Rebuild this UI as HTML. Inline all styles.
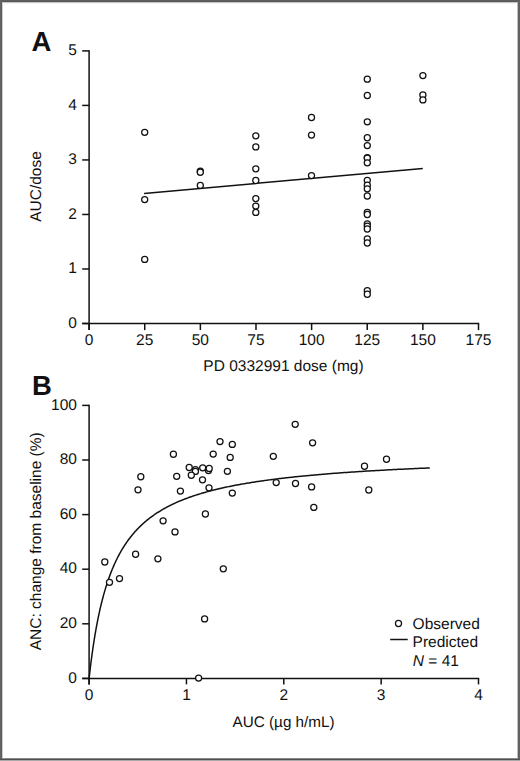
<!DOCTYPE html>
<html><head><meta charset="utf-8"><style>
html,body{margin:0;padding:0;background:#fff;}
body{width:520px;height:761px;overflow:hidden;position:relative;}
.frame{position:absolute;left:0;top:0;width:520px;height:761px;}
svg{position:absolute;left:0;top:0;}
text{text-rendering:geometricPrecision;font-family:"Liberation Sans",sans-serif;font-size:15.5px;fill:#111;}
</style></head><body>
<svg width="520" height="761" viewBox="0 0 520 761">
<rect x="0" y="0" width="520" height="761" fill="#fff"/>
<g shape-rendering="crispEdges">
<rect x="0" y="3" width="520" height="1" fill="#f4f4f4"/>
<rect x="0" y="2" width="520" height="1" fill="#c8c8c8"/>
<rect x="2" y="0" width="1" height="761" fill="#d0d0d0"/>
<rect x="517" y="0" width="1" height="761" fill="#c0c0c0"/>
<rect x="0" y="758" width="520" height="1" fill="#8a8a8a"/>
<rect x="0" y="0" width="520" height="1" fill="#606060"/>
<rect x="0" y="1" width="520" height="1" fill="#565656"/>
<rect x="0" y="0" width="1" height="761" fill="#646464"/>
<rect x="1" y="0" width="1" height="761" fill="#5c5c5c"/>
<rect x="518" y="0" width="1" height="761" fill="#606060"/>
<rect x="519" y="0" width="1" height="761" fill="#626262"/>
<rect x="0" y="759" width="520" height="1" fill="#4f4f4f"/>
<rect x="0" y="760" width="520" height="1" fill="#a9a9a9"/>
</g>
<line x1="89.10" y1="50.30" x2="89.10" y2="330.10" stroke="#111" stroke-width="1.5"/>
<line x1="82.20" y1="323.50" x2="479.20" y2="323.50" stroke="#111" stroke-width="1.5"/>
<line x1="82.20" y1="323.50" x2="89.10" y2="323.50" stroke="#111" stroke-width="1.5"/>
<text x="76.90" y="327.60" text-anchor="end" >0</text>
<line x1="82.20" y1="268.98" x2="89.10" y2="268.98" stroke="#111" stroke-width="1.5"/>
<text x="76.90" y="273.08" text-anchor="end" >1</text>
<line x1="82.20" y1="214.46" x2="89.10" y2="214.46" stroke="#111" stroke-width="1.5"/>
<text x="76.90" y="218.56" text-anchor="end" >2</text>
<line x1="82.20" y1="159.94" x2="89.10" y2="159.94" stroke="#111" stroke-width="1.5"/>
<text x="76.90" y="164.04" text-anchor="end" >3</text>
<line x1="82.20" y1="105.42" x2="89.10" y2="105.42" stroke="#111" stroke-width="1.5"/>
<text x="76.90" y="109.52" text-anchor="end" >4</text>
<line x1="82.20" y1="50.90" x2="89.10" y2="50.90" stroke="#111" stroke-width="1.5"/>
<text x="76.90" y="55.00" text-anchor="end" >5</text>
<line x1="89.10" y1="323.50" x2="89.10" y2="330.10" stroke="#111" stroke-width="1.5"/>
<text x="89.10" y="345.10" text-anchor="middle" >0</text>
<line x1="144.73" y1="323.50" x2="144.73" y2="330.10" stroke="#111" stroke-width="1.5"/>
<text x="144.73" y="345.10" text-anchor="middle" >25</text>
<line x1="200.36" y1="323.50" x2="200.36" y2="330.10" stroke="#111" stroke-width="1.5"/>
<text x="200.36" y="345.10" text-anchor="middle" >50</text>
<line x1="255.99" y1="323.50" x2="255.99" y2="330.10" stroke="#111" stroke-width="1.5"/>
<text x="255.99" y="345.10" text-anchor="middle" >75</text>
<line x1="311.61" y1="323.50" x2="311.61" y2="330.10" stroke="#111" stroke-width="1.5"/>
<text x="311.61" y="345.10" text-anchor="middle" >100</text>
<line x1="367.24" y1="323.50" x2="367.24" y2="330.10" stroke="#111" stroke-width="1.5"/>
<text x="367.24" y="345.10" text-anchor="middle" >125</text>
<line x1="422.87" y1="323.50" x2="422.87" y2="330.10" stroke="#111" stroke-width="1.5"/>
<text x="422.87" y="345.10" text-anchor="middle" >150</text>
<line x1="478.50" y1="323.50" x2="478.50" y2="330.10" stroke="#111" stroke-width="1.5"/>
<text x="478.50" y="345.10" text-anchor="middle" >175</text>
<text x="283.50" y="371.20" text-anchor="middle" >PD 0332991 dose (mg)</text>
<text x="0.00" y="0.00" text-anchor="middle" transform="translate(41.3,186.5) rotate(-90)">AUC/dose</text>
<text x="31.5" y="51.2" style="font-weight:bold;font-size:27.5px">A</text>
<line x1="144.10" y1="193.40" x2="422.80" y2="168.60" stroke="#111" stroke-width="1.5"/>
<circle cx="144.70" cy="132.30" r="3.05" fill="#fff" stroke="#111" stroke-width="1.25"/>
<circle cx="144.70" cy="199.60" r="3.05" fill="#fff" stroke="#111" stroke-width="1.25"/>
<circle cx="144.70" cy="259.40" r="3.05" fill="#fff" stroke="#111" stroke-width="1.25"/>
<circle cx="200.30" cy="171.20" r="3.05" fill="#fff" stroke="#111" stroke-width="1.25"/>
<circle cx="200.30" cy="172.20" r="3.05" fill="#fff" stroke="#111" stroke-width="1.25"/>
<circle cx="200.30" cy="185.40" r="3.05" fill="#fff" stroke="#111" stroke-width="1.25"/>
<circle cx="255.80" cy="135.80" r="3.05" fill="#fff" stroke="#111" stroke-width="1.25"/>
<circle cx="255.80" cy="146.90" r="3.05" fill="#fff" stroke="#111" stroke-width="1.25"/>
<circle cx="255.80" cy="168.80" r="3.05" fill="#fff" stroke="#111" stroke-width="1.25"/>
<circle cx="255.80" cy="180.50" r="3.05" fill="#fff" stroke="#111" stroke-width="1.25"/>
<circle cx="255.80" cy="198.60" r="3.05" fill="#fff" stroke="#111" stroke-width="1.25"/>
<circle cx="255.80" cy="206.10" r="3.05" fill="#fff" stroke="#111" stroke-width="1.25"/>
<circle cx="255.80" cy="212.40" r="3.05" fill="#fff" stroke="#111" stroke-width="1.25"/>
<circle cx="311.50" cy="117.50" r="3.05" fill="#fff" stroke="#111" stroke-width="1.25"/>
<circle cx="311.50" cy="135.10" r="3.05" fill="#fff" stroke="#111" stroke-width="1.25"/>
<circle cx="311.50" cy="175.60" r="3.05" fill="#fff" stroke="#111" stroke-width="1.25"/>
<circle cx="367.30" cy="79.20" r="3.05" fill="#fff" stroke="#111" stroke-width="1.25"/>
<circle cx="367.30" cy="95.50" r="3.05" fill="#fff" stroke="#111" stroke-width="1.25"/>
<circle cx="367.30" cy="121.80" r="3.05" fill="#fff" stroke="#111" stroke-width="1.25"/>
<circle cx="367.30" cy="137.70" r="3.05" fill="#fff" stroke="#111" stroke-width="1.25"/>
<circle cx="367.30" cy="145.60" r="3.05" fill="#fff" stroke="#111" stroke-width="1.25"/>
<circle cx="367.30" cy="157.60" r="3.05" fill="#fff" stroke="#111" stroke-width="1.25"/>
<circle cx="367.30" cy="158.10" r="3.05" fill="#fff" stroke="#111" stroke-width="1.25"/>
<circle cx="367.30" cy="162.80" r="3.05" fill="#fff" stroke="#111" stroke-width="1.25"/>
<circle cx="367.30" cy="180.30" r="3.05" fill="#fff" stroke="#111" stroke-width="1.25"/>
<circle cx="367.30" cy="185.20" r="3.05" fill="#fff" stroke="#111" stroke-width="1.25"/>
<circle cx="367.30" cy="188.80" r="3.05" fill="#fff" stroke="#111" stroke-width="1.25"/>
<circle cx="367.30" cy="196.00" r="3.05" fill="#fff" stroke="#111" stroke-width="1.25"/>
<circle cx="367.30" cy="212.30" r="3.05" fill="#fff" stroke="#111" stroke-width="1.25"/>
<circle cx="367.30" cy="214.50" r="3.05" fill="#fff" stroke="#111" stroke-width="1.25"/>
<circle cx="367.30" cy="223.80" r="3.05" fill="#fff" stroke="#111" stroke-width="1.25"/>
<circle cx="367.30" cy="226.10" r="3.05" fill="#fff" stroke="#111" stroke-width="1.25"/>
<circle cx="367.30" cy="229.00" r="3.05" fill="#fff" stroke="#111" stroke-width="1.25"/>
<circle cx="367.30" cy="238.80" r="3.05" fill="#fff" stroke="#111" stroke-width="1.25"/>
<circle cx="367.30" cy="243.00" r="3.05" fill="#fff" stroke="#111" stroke-width="1.25"/>
<circle cx="367.30" cy="290.60" r="3.05" fill="#fff" stroke="#111" stroke-width="1.25"/>
<circle cx="367.30" cy="294.20" r="3.05" fill="#fff" stroke="#111" stroke-width="1.25"/>
<circle cx="422.90" cy="75.60" r="3.05" fill="#fff" stroke="#111" stroke-width="1.25"/>
<circle cx="422.90" cy="95.00" r="3.05" fill="#fff" stroke="#111" stroke-width="1.25"/>
<circle cx="422.90" cy="99.90" r="3.05" fill="#fff" stroke="#111" stroke-width="1.25"/>
<line x1="89.10" y1="404.80" x2="89.10" y2="684.40" stroke="#111" stroke-width="1.5"/>
<line x1="82.20" y1="678.40" x2="479.20" y2="678.40" stroke="#111" stroke-width="1.5"/>
<line x1="82.20" y1="678.40" x2="89.10" y2="678.40" stroke="#111" stroke-width="1.5"/>
<text x="76.90" y="682.50" text-anchor="end" >0</text>
<line x1="82.20" y1="623.80" x2="89.10" y2="623.80" stroke="#111" stroke-width="1.5"/>
<text x="76.90" y="627.90" text-anchor="end" >20</text>
<line x1="82.20" y1="569.20" x2="89.10" y2="569.20" stroke="#111" stroke-width="1.5"/>
<text x="76.90" y="573.30" text-anchor="end" >40</text>
<line x1="82.20" y1="514.60" x2="89.10" y2="514.60" stroke="#111" stroke-width="1.5"/>
<text x="76.90" y="518.70" text-anchor="end" >60</text>
<line x1="82.20" y1="460.00" x2="89.10" y2="460.00" stroke="#111" stroke-width="1.5"/>
<text x="76.90" y="464.10" text-anchor="end" >80</text>
<line x1="82.20" y1="405.40" x2="89.10" y2="405.40" stroke="#111" stroke-width="1.5"/>
<text x="76.90" y="409.50" text-anchor="end" >100</text>
<line x1="89.10" y1="678.40" x2="89.10" y2="684.40" stroke="#111" stroke-width="1.5"/>
<text x="89.10" y="700.20" text-anchor="middle" >0</text>
<line x1="186.45" y1="678.40" x2="186.45" y2="684.40" stroke="#111" stroke-width="1.5"/>
<text x="186.45" y="700.20" text-anchor="middle" >1</text>
<line x1="283.80" y1="678.40" x2="283.80" y2="684.40" stroke="#111" stroke-width="1.5"/>
<text x="283.80" y="700.20" text-anchor="middle" >2</text>
<line x1="381.15" y1="678.40" x2="381.15" y2="684.40" stroke="#111" stroke-width="1.5"/>
<text x="381.15" y="700.20" text-anchor="middle" >3</text>
<line x1="478.50" y1="678.40" x2="478.50" y2="684.40" stroke="#111" stroke-width="1.5"/>
<text x="478.50" y="700.20" text-anchor="middle" >4</text>
<text x="283.60" y="727.30" text-anchor="middle" style="font-size:15.25px">AUC (µg h/mL)</text>
<text x="0.00" y="0.00" text-anchor="middle" transform="translate(41.2,541.3) rotate(-90)">ANC: change from baseline (%)</text>
<text x="32.1" y="395.0" style="font-weight:bold;font-size:27.5px">B</text>
<polyline points="89.10,678.40 89.10,678.38 89.11,678.32 89.12,678.23 89.13,678.09 89.15,677.92 89.18,677.70 89.20,677.45 89.24,677.16 89.27,676.84 89.31,676.47 89.36,676.07 89.41,675.64 89.46,675.16 89.52,674.66 89.58,674.11 89.65,673.54 89.72,672.92 89.79,672.28 89.87,671.60 89.95,670.89 90.04,670.15 90.13,669.38 90.23,668.57 90.33,667.74 90.43,666.88 90.54,665.99 90.65,665.08 90.77,664.14 90.89,663.17 91.02,662.18 91.15,661.16 91.28,660.12 91.42,659.06 91.56,657.98 91.71,656.88 91.86,655.76 92.02,654.61 92.18,653.45 92.34,652.28 92.51,651.09 92.68,649.88 92.86,648.66 93.04,647.42 93.22,646.17 93.41,644.91 93.61,643.63 93.80,642.35 94.01,641.06 94.21,639.75 94.42,638.44 94.64,637.12 94.86,635.80 95.08,634.46 95.31,633.13 95.54,631.78 95.78,630.44 96.02,629.08 96.26,627.73 96.51,626.37 96.77,625.02 97.02,623.66 97.29,622.30 97.55,620.94 97.82,619.58 98.10,618.22 98.38,616.86 98.66,615.51 98.95,614.15 99.24,612.80 99.53,611.45 99.83,610.11 100.14,608.77 100.45,607.44 100.76,606.11 101.08,604.78 101.40,603.46 101.73,602.14 102.06,600.84 102.39,599.53 102.73,598.24 103.07,596.95 103.42,595.67 103.77,594.39 104.13,593.12 104.49,591.87 104.85,590.61 105.22,589.37 105.59,588.13 105.97,586.91 106.35,585.69 106.73,584.48 107.12,583.28 107.52,582.09 107.92,580.90 108.32,579.73 108.73,578.56 109.14,577.41 109.55,576.26 109.97,575.13 110.40,574.00 110.82,572.88 111.26,571.77 111.69,570.67 112.13,569.58 112.58,568.51 113.03,567.44 113.48,566.38 113.94,565.33 114.40,564.29 114.87,563.26 115.34,562.23 115.81,561.22 116.29,560.22 116.78,559.23 117.26,558.25 117.75,557.27 118.25,556.31 118.75,555.36 119.26,554.41 119.77,553.48 120.28,552.55 120.80,551.64 121.32,550.73 121.84,549.83 122.37,548.94 122.91,548.07 123.45,547.20 123.99,546.33 124.54,545.48 125.09,544.64 125.64,543.81 126.20,542.98 126.77,542.16 127.34,541.36 127.91,540.56 128.49,539.76 129.07,538.98 129.65,538.21 130.24,537.44 130.84,536.68 131.44,535.93 132.04,535.19 132.65,534.46 133.26,533.73 133.87,533.02 134.49,532.31 135.12,531.60 135.75,530.91 136.38,530.22 137.01,529.54 137.66,528.87 138.30,528.20 138.95,527.55 139.60,526.89 140.26,526.25 140.92,525.61 141.59,524.98 142.26,524.36 142.94,523.75 143.62,523.14 144.30,522.53 144.99,521.94 145.68,521.35 146.38,520.76 147.08,520.19 147.78,519.62 148.49,519.05 149.20,518.49 149.92,517.94 150.64,517.39 151.37,516.85 152.10,516.32 152.83,515.79 153.57,515.27 154.32,514.75 155.06,514.24 155.82,513.73 156.57,513.23 157.33,512.74 158.10,512.25 158.87,511.76 159.64,511.28 160.42,510.81 161.20,510.34 161.98,509.87 162.77,509.41 163.57,508.96 164.37,508.51 165.17,508.06 165.98,507.62 166.79,507.19 167.60,506.76 168.42,506.33 169.25,505.91 170.08,505.49 170.91,505.08 171.74,504.67 172.59,504.27 173.43,503.86 174.28,503.47 175.14,503.08 175.99,502.69 176.86,502.31 177.72,501.93 178.59,501.55 179.47,501.18 180.35,500.81 181.23,500.45 182.12,500.09 183.01,499.73 183.91,499.38 184.81,499.03 185.71,498.68 186.62,498.34 187.54,498.00 188.46,497.66 189.38,497.33 190.30,497.00 191.23,496.68 192.17,496.35 193.11,496.04 194.05,495.72 195.00,495.41 195.95,495.10 196.91,494.79 197.87,494.49 198.83,494.19 199.80,493.89 200.77,493.60 201.75,493.30 202.73,493.02 203.72,492.73 204.71,492.45 205.70,492.17 206.70,491.89 207.71,491.62 208.71,491.34 209.73,491.07 210.74,490.81 211.76,490.54 212.79,490.28 213.81,490.02 214.85,489.77 215.88,489.51 216.93,489.26 217.97,489.01 219.02,488.76 220.07,488.52 221.13,488.28 222.20,488.04 223.26,487.80 224.33,487.56 225.41,487.33 226.49,487.10 227.57,486.87 228.66,486.64 229.75,486.42 230.85,486.20 231.95,485.98 233.06,485.76 234.17,485.54 235.28,485.33 236.40,485.11 237.52,484.90 238.65,484.70 239.78,484.49 240.91,484.28 242.05,484.08 243.20,483.88 244.34,483.68 245.49,483.48 246.65,483.29 247.81,483.09 248.98,482.90 250.15,482.71 251.32,482.52 252.50,482.33 253.68,482.15 254.86,481.97 256.06,481.78 257.25,481.60 258.45,481.42 259.65,481.25 260.86,481.07 262.07,480.90 263.29,480.72 264.51,480.55 265.73,480.38 266.96,480.21 268.19,480.05 269.43,479.88 270.67,479.72 271.92,479.56 273.17,479.39 274.42,479.23 275.68,479.08 276.94,478.92 278.21,478.76 279.48,478.61 280.76,478.46 282.04,478.30 283.32,478.15 284.61,478.00 285.90,477.86 287.20,477.71 288.50,477.56 289.81,477.42 291.12,477.28 292.43,477.13 293.75,476.99 295.07,476.85 296.40,476.71 297.73,476.58 299.06,476.44 300.40,476.31 301.75,476.17 303.09,476.04 304.45,475.91 305.80,475.78 307.16,475.65 308.53,475.52 309.90,475.39 311.27,475.26 312.65,475.14 314.03,475.01 315.42,474.89 316.81,474.77 318.20,474.65 319.60,474.53 321.01,474.41 322.41,474.29 323.83,474.17 325.24,474.05 326.66,473.94 328.09,473.82 329.52,473.71 330.95,473.59 332.39,473.48 333.83,473.37 335.27,473.26 336.72,473.15 338.18,473.04 339.64,472.93 341.10,472.82 342.57,472.72 344.04,472.61 345.51,472.51 346.99,472.40 348.48,472.30 349.97,472.20 351.46,472.10 352.96,471.99 354.46,471.89 355.96,471.80 357.47,471.70 358.99,471.60 360.51,471.50 362.03,471.40 363.56,471.31 365.09,471.21 366.62,471.12 368.16,471.03 369.71,470.93 371.25,470.84 372.81,470.75 374.36,470.66 375.92,470.57 377.49,470.48 379.06,470.39 380.63,470.30 382.21,470.21 383.79,470.13 385.38,470.04 386.97,469.95 388.57,469.87 390.16,469.78 391.77,469.70 393.38,469.62 394.99,469.53 396.60,469.45 398.22,469.37 399.85,469.29 401.48,469.21 403.11,469.13 404.75,469.05 406.39,468.97 408.04,468.89 409.69,468.81 411.34,468.74 413.00,468.66 414.66,468.58 416.33,468.51 418.00,468.43 419.68,468.36 421.36,468.28 423.04,468.21 424.73,468.14 426.43,468.07 428.12,467.99 429.82,467.92" fill="none" stroke="#111" stroke-width="1.5"/>
<circle cx="104.80" cy="562.00" r="3.05" fill="#fff" stroke="#111" stroke-width="1.25"/>
<circle cx="109.50" cy="582.30" r="3.05" fill="#fff" stroke="#111" stroke-width="1.25"/>
<circle cx="119.50" cy="578.60" r="3.05" fill="#fff" stroke="#111" stroke-width="1.25"/>
<circle cx="135.60" cy="554.20" r="3.05" fill="#fff" stroke="#111" stroke-width="1.25"/>
<circle cx="138.00" cy="489.80" r="3.05" fill="#fff" stroke="#111" stroke-width="1.25"/>
<circle cx="140.80" cy="476.70" r="3.05" fill="#fff" stroke="#111" stroke-width="1.25"/>
<circle cx="157.90" cy="558.80" r="3.05" fill="#fff" stroke="#111" stroke-width="1.25"/>
<circle cx="163.10" cy="520.80" r="3.05" fill="#fff" stroke="#111" stroke-width="1.25"/>
<circle cx="173.40" cy="454.20" r="3.05" fill="#fff" stroke="#111" stroke-width="1.25"/>
<circle cx="175.00" cy="531.90" r="3.05" fill="#fff" stroke="#111" stroke-width="1.25"/>
<circle cx="176.70" cy="476.30" r="3.05" fill="#fff" stroke="#111" stroke-width="1.25"/>
<circle cx="180.40" cy="491.10" r="3.05" fill="#fff" stroke="#111" stroke-width="1.25"/>
<circle cx="189.20" cy="467.50" r="3.05" fill="#fff" stroke="#111" stroke-width="1.25"/>
<circle cx="195.50" cy="469.70" r="3.05" fill="#fff" stroke="#111" stroke-width="1.25"/>
<circle cx="195.40" cy="471.40" r="3.05" fill="#fff" stroke="#111" stroke-width="1.25"/>
<circle cx="191.30" cy="475.20" r="3.05" fill="#fff" stroke="#111" stroke-width="1.25"/>
<circle cx="202.70" cy="467.80" r="3.05" fill="#fff" stroke="#111" stroke-width="1.25"/>
<circle cx="202.50" cy="479.80" r="3.05" fill="#fff" stroke="#111" stroke-width="1.25"/>
<circle cx="204.60" cy="618.90" r="3.05" fill="#fff" stroke="#111" stroke-width="1.25"/>
<circle cx="198.60" cy="678.10" r="3.05" fill="#fff" stroke="#111" stroke-width="1.25"/>
<circle cx="205.40" cy="514.00" r="3.05" fill="#fff" stroke="#111" stroke-width="1.25"/>
<circle cx="208.50" cy="470.60" r="3.05" fill="#fff" stroke="#111" stroke-width="1.25"/>
<circle cx="209.20" cy="468.50" r="3.05" fill="#fff" stroke="#111" stroke-width="1.25"/>
<circle cx="209.00" cy="487.80" r="3.05" fill="#fff" stroke="#111" stroke-width="1.25"/>
<circle cx="213.20" cy="454.10" r="3.05" fill="#fff" stroke="#111" stroke-width="1.25"/>
<circle cx="220.00" cy="441.60" r="3.05" fill="#fff" stroke="#111" stroke-width="1.25"/>
<circle cx="223.30" cy="568.80" r="3.05" fill="#fff" stroke="#111" stroke-width="1.25"/>
<circle cx="227.40" cy="471.30" r="3.05" fill="#fff" stroke="#111" stroke-width="1.25"/>
<circle cx="230.20" cy="457.40" r="3.05" fill="#fff" stroke="#111" stroke-width="1.25"/>
<circle cx="232.30" cy="444.40" r="3.05" fill="#fff" stroke="#111" stroke-width="1.25"/>
<circle cx="232.30" cy="493.10" r="3.05" fill="#fff" stroke="#111" stroke-width="1.25"/>
<circle cx="273.30" cy="456.30" r="3.05" fill="#fff" stroke="#111" stroke-width="1.25"/>
<circle cx="276.20" cy="482.60" r="3.05" fill="#fff" stroke="#111" stroke-width="1.25"/>
<circle cx="295.20" cy="424.30" r="3.05" fill="#fff" stroke="#111" stroke-width="1.25"/>
<circle cx="295.50" cy="483.50" r="3.05" fill="#fff" stroke="#111" stroke-width="1.25"/>
<circle cx="311.60" cy="486.90" r="3.05" fill="#fff" stroke="#111" stroke-width="1.25"/>
<circle cx="312.60" cy="442.80" r="3.05" fill="#fff" stroke="#111" stroke-width="1.25"/>
<circle cx="313.80" cy="507.40" r="3.05" fill="#fff" stroke="#111" stroke-width="1.25"/>
<circle cx="364.50" cy="466.20" r="3.05" fill="#fff" stroke="#111" stroke-width="1.25"/>
<circle cx="368.80" cy="490.00" r="3.05" fill="#fff" stroke="#111" stroke-width="1.25"/>
<circle cx="386.50" cy="459.20" r="3.05" fill="#fff" stroke="#111" stroke-width="1.25"/>
<circle cx="398.50" cy="623.50" r="3.05" fill="#fff" stroke="#111" stroke-width="1.25"/>
<line x1="390.20" y1="639.50" x2="407.70" y2="639.50" stroke="#111" stroke-width="1.5"/>
<text x="412.60" y="628.60" text-anchor="start" >Observed</text>
<text x="412.60" y="646.80" text-anchor="start" >Predicted</text>
<text x="412.80" y="665.70" text-anchor="start" ><tspan font-style="italic">N</tspan> = 41</text>
</svg>
</body></html>
